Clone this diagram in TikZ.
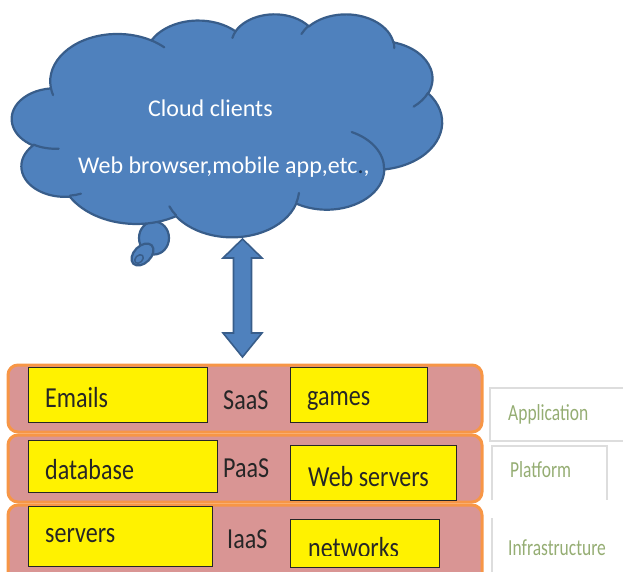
\documentclass[tikz,border=0pt]{standalone}
\usepackage{fontspec}
\setmainfont{Carlito}
\newfontfamily\boxfont[FakeStretch=0.83]{Carlito}
\newfontfamily\labfont[FakeStretch=0.76]{Carlito}
\definecolor{cloudfill}{HTML}{4F81BD}
\definecolor{cloudline}{HTML}{385D8A}
\definecolor{layerfill}{HTML}{D99594}
\definecolor{layerline}{HTML}{F79646}
\definecolor{labgreen}{HTML}{95AD73}
\definecolor{tabgray}{HTML}{DDDDDD}
\definecolor{darktext}{HTML}{262626}
% arc given by OOXML-style visual angles: wR, hR, stAng, swAng (degrees)
\newcommand\oarc[4]{%
  \pgfextra{%
    \pgfmathparse{atan2((#1)*sin(#3),(#2)*cos(#3))}\xdef\oTs{\pgfmathresult}%
    \pgfmathparse{atan2((#1)*sin((#3)+(#4)),(#2)*cos((#3)+(#4)))}\xdef\oTe{\pgfmathresult}%
    \pgfmathparse{mod(\oTe-\oTs+720,360)}\xdef\oD{\pgfmathresult}%
  }%
  arc[start angle=\oTs, delta angle=\oD, x radius=#1, y radius=#2]%
}
\begin{document}
\begin{tikzpicture}[x=1pt,y=-1pt,
  cloudsty/.style={fill=cloudfill, draw=cloudline, line width=2.2pt, line join=round},
  cloudin/.style={draw=cloudline, line width=2.2pt, line cap=round},
  blockarrow/.style={fill=cloudfill, draw=cloudline, line width=1.6pt, line join=miter},
  layerbox/.style={draw=layerline, fill=layerfill, line width=3pt, rounded corners=10pt,
    anchor=north west, inner sep=0pt, outer sep=0pt},
  ybox/.style={draw=black!85, fill=yellow, line width=1.2pt, anchor=north west, inner sep=0pt},
  btext/.style={anchor=base west, inner sep=0pt, font=\boxfont\fontsize{29}{32}\selectfont, text=darktext},
  ltext/.style={anchor=base west, inner sep=0pt, font=\labfont\fontsize{23}{26}\selectfont, text=labgreen},
  ctext/.style={anchor=base west, inner sep=0pt, font=\fontsize{24}{28}\selectfont, text=white},
  tabline/.style={draw=tabgray, line width=1.5pt}]
\useasboundingbox (0,0) rectangle (623,571);
\clip (0,0) rectangle (623,571);

% tail bubbles of the cloud callout
\draw[cloudsty] (154,238) ellipse[x radius=15, y radius=16.5];
\draw[cloudsty, rotate around={45:(142.5,254.5)}] (142.5,254.5) ellipse[x radius=13, y radius=8.5];
\draw[cloudsty, line width=1.5pt, rotate around={45:(139,259)}] (139,259) ellipse[x radius=5, y radius=3.5];

% cloud
\begin{scope}[shift={(12,13.6)}, x=0.9954pt, y=-0.516pt]
\draw[cloudsty] (39.00,143.70)
  \oarc{67.53}{91.90}{-190.4875}{123.7805}
  \oarc{53.33}{72.67}{-144.1024}{89.9452}
  \oarc{43.65}{59.45}{-145.8079}{99.7230}
  \oarc{48.57}{65.95}{-130.9861}{117.2417}
  \oarc{53.33}{72.73}{-78.7089}{109.0269}
  \oarc{67.75}{92.20}{-46.2673}{130.2690}
  \oarc{57.85}{78.67}{0.6250}{114.0333}
  \oarc{67.52}{92.15}{22.4516}{115.1726}
  \oarc{77.20}{105.43}{66.2426}{75.7110}
  \oarc{43.60}{59.18}{-274.9421}{146.7356}
  \oarc{43.45}{59.45}{-246.8285}{152.5189} -- cycle;
\draw[cloudin] (46.93,261.77) \oarc{43.45}{59.45}{86.7420}{26.4295};
\draw[cloudin] (69.28,348.99) \oarc{43.60}{59.18}{73.6105}{11.4475};
\draw[cloudin] (164.78,390.90) \oarc{67.52}{92.15}{137.6242}{14.0811};
\draw[cloudin] (288.27,347.51) \oarc{67.52}{92.15}{6.4533}{15.9984};
\draw[cloudin] (341.29,229.54) \oarc{57.85}{78.67}{-70.2924}{70.9174};
\draw[cloudin] (417.98,153.54) \oarc{53.33}{72.73}{30.3180}{27.7515};
\draw[cloudin] (383.24,54.26) \oarc{48.57}{65.95}{-13.7443}{14.8661};
\draw[cloudin] (290.78,39.52) \oarc{48.57}{65.95}{-149.1815}{18.1954};
\draw[cloudin] (221.41,47.20) \oarc{43.65}{59.45}{-163.4943}{17.6864};
\draw[cloudin] (140.00,51.92) \oarc{67.53}{91.90}{-66.7070}{12.3194};
\draw[cloudin] (41.27,157.89) \oarc{67.53}{91.90}{157.6544}{11.8582};
\end{scope}

\node[ctext] (cc) at (148,116) {Cloud clients};
\node[ctext] (wb) at (78,173) {Web browser,mobile app,etc{\color{cloudline!60!black}.},};

% layers
\node[layerbox, minimum width=474pt, minimum height=67pt] (saas) at (8,365) {};
\node[layerbox, minimum width=474pt, minimum height=67pt] (paas) at (8,435) {};
\node[layerbox, minimum width=474pt, minimum height=90pt] (iaas) at (8,505) {};

% double block arrow between cloud and the stack
\coordinate (atop) at (242.5,239);
\draw[blockarrow] (atop) -- ++(19.5,19) -- ++(-10.5,0) -- ++(0,75) -- ++(10.5,0)
  -- ++(-19.5,24) -- ++(-19.5,-24) -- ++(10.5,0) -- ++(0,-75) -- ++(-10.5,0) -- cycle;

% yellow boxes
\node[ybox, minimum width=179pt, minimum height=55pt] (emailsbox) at (28,367) {};
\node[ybox, minimum width=137pt, minimum height=55pt] (gamesbox) at (290,367) {};
\node[ybox, minimum width=189pt, minimum height=52pt] (databox) at (28,440) {};
\node[ybox, minimum width=166pt, minimum height=55pt] (webbox) at (290,445) {};
\node[ybox, minimum width=184pt, minimum height=60pt] (serversbox) at (28,506) {};
\node[ybox, minimum width=149pt, minimum height=48pt] (netbox) at (290,519) {};

\node[btext] (emails) at (45,407) {Emails};
\node[btext] (saastxt) at (223,409) {SaaS};
\node[btext] (games) at (307,405) {games};
\node[btext] (database) at (45,479) {database};
\node[btext] (paastxt) at (223,477) {PaaS};
\node[btext] (websrv) at (308,486) {Web servers};
\node[btext] (servers) at (45,542) {servers};
\node[btext] (iaastxt) at (227,548) {IaaS};
\begin{scope}
\clip (290,519) rectangle (439,555);
\node[btext] (networks) at (308,557) {networks};
\end{scope}

% right-hand tabs
\draw[tabline] (640,388) -- (490,388) -- (490,441) -- (640,441);
\draw[tabline] (492,500) -- (492,446) -- (607,446) -- (607,500);
\draw[tabline] (492,518) -- (492,580);
\node[ltext] (app) at (508,420) {Application};
\node[ltext] (plat) at (510,477) {Platform};
\node[ltext] (infra) at (508,555) {Infrastructure};
\end{tikzpicture}
\end{document}
